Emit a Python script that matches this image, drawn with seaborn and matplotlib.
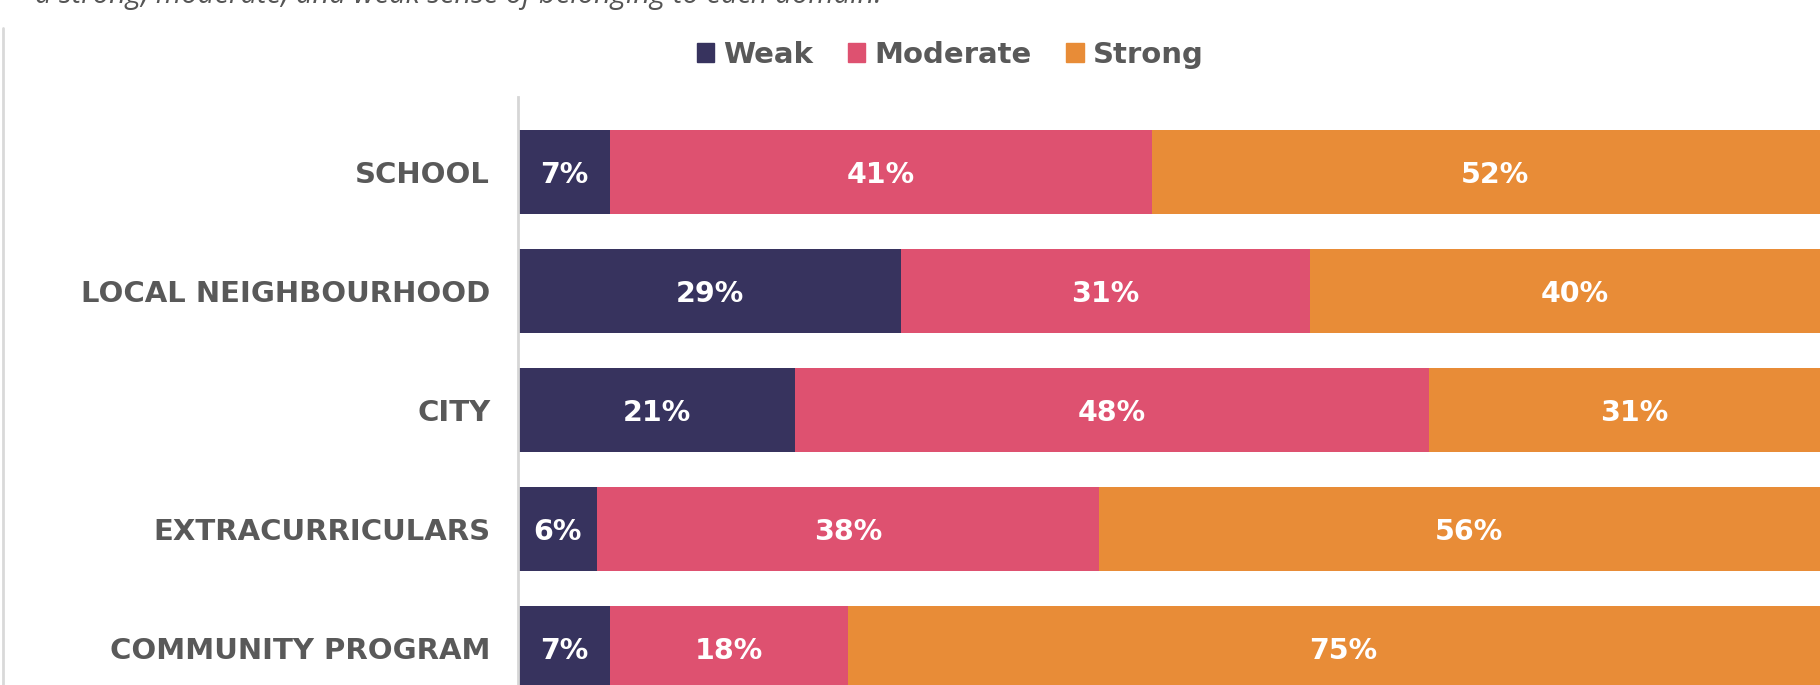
import pandas as pd
import seaborn as sns
import matplotlib.pyplot as plt
import matplotlib.patches as mpatches
from matplotlib.lines import Line2D

domains = ["SCHOOL", "LOCAL NEIGHBOURHOOD", "CITY", "EXTRACURRICULARS", "COMMUNITY PROGRAM"]
weak = [7, 29, 21, 6, 7]
moderate = [41, 31, 48, 38, 18]
strong = [52, 40, 31, 56, 75]

levels = ["Weak", "Moderate", "Strong"]
colors = ["#37335e", "#de5170", "#e88c37"]
subtitle = "a strong, moderate, and weak sense of belonging to each domain."

df = pd.DataFrame({"domain": domains, "weak": weak, "moderate": moderate, "strong": strong})
df["cum_weak"] = df["weak"]
df["cum_mod"] = df["weak"] + df["moderate"]
df["cum_strong"] = df["cum_mod"] + df["strong"]

sns.set_style("white")
plt.rcParams["font.family"] = ["DejaVu Sans"]

fig = plt.figure(figsize=(18.2, 6.85), dpi=100)
ax = fig.add_axes([518 / 1820, 0, 1 - 518 / 1820, 1 - 97 / 685])

# stacked bars: draw cumulative totals from largest to smallest
for col, c in zip(["cum_strong", "cum_mod", "cum_weak"], colors[::-1]):
    sns.barplot(data=df, x=col, y="domain", order=domains, color=c, saturation=1,
                width=0.7, linewidth=0, ax=ax)

for i, row in df.iterrows():
    starts = [0, row["cum_weak"], row["cum_mod"]]
    for s, v in zip(starts, [row["weak"], row["moderate"], row["strong"]]):
        ax.text(s + v / 2, i, f"{v}%", ha="center", va="center_baseline",
                color="white", fontsize=20.5, fontweight="bold")

ax.set_xlim(0, 98.6)
ax.set_ylim(4.31, -0.63)
ax.set_xlabel("")
ax.set_ylabel("")
ax.set_xticks([])
ax.tick_params(axis="y", length=0, pad=20, labelsize=21, labelcolor="#595959")
for lab in ax.get_yticklabels():
    lab.set_fontweight("bold")
for sp in ["top", "right", "bottom"]:
    ax.spines[sp].set_visible(False)
ax.spines["left"].set_color("#d6d6d6")
ax.spines["left"].set_linewidth(2)

handles = [mpatches.Patch(color=c, label=l) for c, l in zip(colors, levels)]
leg = fig.legend(handles=handles, loc="center", bbox_to_anchor=(950 / 1820, 1 - 55 / 685),
                 ncol=3, frameon=False, handlelength=0.6, handleheight=0.6,
                 handletextpad=0.3, columnspacing=1.2, fontsize=21)
for t in leg.get_texts():
    t.set_fontweight("bold")
    t.set_color("#595959")

# subtitle line sits mostly above the top edge, as in the source crop
fig.text(35 / 1820, 1 - 3 / 685, subtitle, ha="left", va="baseline", fontsize=21,
         style="italic", color="#555555", family=["Open Sans", "DejaVu Sans"])

fig.add_artist(Line2D([3 / 1820, 3 / 1820], [0, 1 - 28 / 685], color="#d9d9d9", lw=2))

fig.savefig("out.png", dpi=100)
